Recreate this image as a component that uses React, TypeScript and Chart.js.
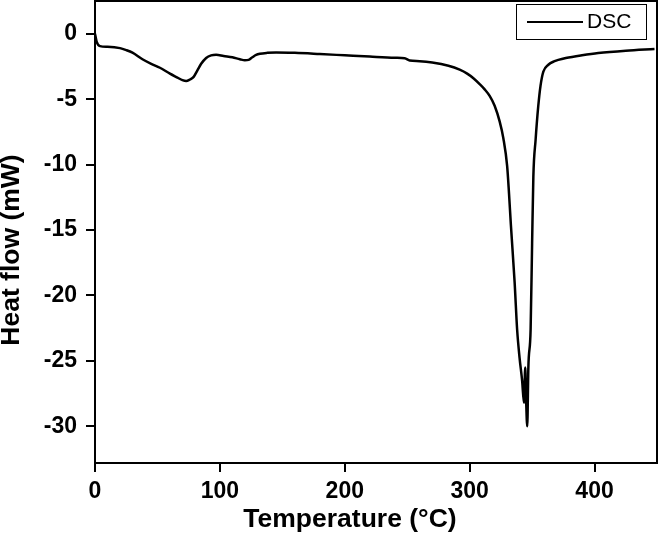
import React, { useEffect, useRef } from "react";
import { Chart, registerables } from "chart.js";

Chart.register(...registerables);

const temperatures = [
  0, 1.3, 4, 10, 20, 25, 30, 38, 45, 52, 60, 66, 70, 73, 76, 79, 82, 85, 89, 93, 97, 103, 110, 116, 120, 123, 126,
  129, 132, 138, 145, 160, 180, 200, 220, 240, 248, 252, 260, 270, 283, 292, 298, 303, 308, 312, 316, 320, 324,
  327, 330, 331.5, 333, 336, 338, 340, 342, 343.5, 344.5, 345.2, 346.1, 347, 348.8, 350, 351, 352.8, 354.9, 356.7,
  359, 363, 368, 371, 377, 390, 403, 425, 448,
];
const heatFlow = [
  0, -0.6, -0.95, -1.0, -1.1, -1.25, -1.45, -1.95, -2.3, -2.6, -3.05, -3.35, -3.55, -3.62, -3.5, -3.3, -2.8, -2.3,
  -1.85, -1.65, -1.6, -1.7, -1.8, -1.95, -2.03, -2.0, -1.8, -1.62, -1.53, -1.46, -1.43, -1.46, -1.55, -1.65, -1.75,
  -1.84, -1.88, -2.05, -2.1, -2.2, -2.45, -2.75, -3.05, -3.4, -3.85, -4.25, -4.75, -5.5, -6.7, -8.0, -10.1, -12.2,
  -14.6, -19.0, -22.6, -24.8, -26.5, -28.2, -25.5, -28.0, -30.0, -25.5, -22.6, -16.0, -10.9, -8.1, -5.56, -4.0,
  -2.9, -2.37, -2.1, -2.0, -1.86, -1.65, -1.48, -1.3, -1.17,
];
const xTickValues = [0, 100, 200, 300, 400];
const yTickValues = [0, -5, -10, -15, -20, -25, -30];
const seriesLabel = "DSC";
const xTitle = "Temperature (°C)";
const yTitle = "Heat flow (mW)";

const FONT = "'Liberation Sans', Arial, Helvetica, sans-serif";

const framePlugin = {
  id: "frameAndLegend",
  afterDraw(chart: any) {
    const { ctx, chartArea } = chart;
    ctx.save();
    ctx.strokeStyle = "#000";
    ctx.lineWidth = 2;
    ctx.strokeRect(chartArea.left, chartArea.top, chartArea.right - chartArea.left, chartArea.bottom - chartArea.top);
    // legend box
    const bx = chartArea.right - 141;
    const by = chartArea.top + 3;
    const bw = 130;
    const bh = 35;
    ctx.lineWidth = 1;
    ctx.strokeRect(bx + 0.5, by + 0.5, bw, bh);
    ctx.lineWidth = 2;
    ctx.beginPath();
    ctx.moveTo(bx + 11, by + bh / 2 + 0.5);
    ctx.lineTo(bx + 67, by + bh / 2 + 0.5);
    ctx.stroke();
    ctx.fillStyle = "#000";
    ctx.font = `21px ${FONT}`;
    ctx.textBaseline = "middle";
    ctx.textAlign = "left";
    ctx.fillText(seriesLabel, bx + 71, by + bh / 2 + 1);

    // axis titles
    ctx.font = `bold 26.5px ${FONT}`;
    ctx.textAlign = "center";
    ctx.textBaseline = "middle";
    ctx.fillText(xTitle, chartArea.left + 255, chart.height - 18);
    ctx.translate(12, chartArea.top + 249);
    ctx.rotate(-Math.PI / 2);
    ctx.fillText(yTitle, 0, 0);
    ctx.restore();
  },
};

export default function App() {
  const canvasRef = useRef<HTMLCanvasElement | null>(null);

  useEffect(() => {
    if (!canvasRef.current) return;
    const chart = new Chart(canvasRef.current, {
      type: "line",
      data: {
        datasets: [
          {
            label: seriesLabel,
            data: temperatures.map((t, i) => ({ x: t, y: heatFlow[i] })),
            borderColor: "#000",
            borderWidth: 2.5,
            pointRadius: 0,
            fill: false,
            cubicInterpolationMode: "monotone",
          },
        ],
      },
      options: {
        responsive: false,
        animation: false,
        layout: { padding: { top: 1, right: 3, left: 0, bottom: 0 } },
        plugins: { legend: { display: false }, tooltip: { enabled: false } },
        scales: {
          x: {
            type: "linear",
            min: 0,
            max: 450,
            afterBuildTicks: (scale: any) => {
              scale.ticks = xTickValues.map((v) => ({ value: v }));
            },
            afterFit: (scale: any) => {
              scale.height = 75;
              scale.paddingLeft = 0;
              scale.paddingRight = 0;
            },
            ticks: {
              color: "#000",
              font: { family: FONT, size: 23, weight: "bold" },
              padding: 6,
              maxRotation: 0,
              callback: (v: any) => String(v),
            },
            grid: { drawOnChartArea: false, drawTicks: true, tickLength: 9, lineWidth: 2, color: "#000" },
            border: { display: true, width: 2, color: "#000" },
            title: { display: false },
          },
          y: {
            type: "linear",
            min: -32.8,
            max: 2.5,
            afterBuildTicks: (scale: any) => {
              scale.ticks = yTickValues.map((v) => ({ value: v }));
            },
            afterFit: (scale: any) => {
              scale.width = 95;
              scale.paddingTop = 0;
              scale.paddingBottom = 0;
            },
            ticks: {
              color: "#000",
              font: { family: FONT, size: 23, weight: "bold" },
              padding: 9,
              callback: (v: any) => String(v),
            },
            grid: { drawOnChartArea: false, drawTicks: true, tickLength: 9, lineWidth: 2, color: "#000" },
            border: { display: true, width: 2, color: "#000" },
            title: { display: false },
          },
        },
      },
      plugins: [framePlugin],
    });
    return () => chart.destroy();
  }, []);

  return (
    <div style={{ position: "fixed", left: 0, top: 0, width: 660, height: 538 }}>
      <canvas ref={canvasRef} width={660} height={538} />
    </div>
  );
}
